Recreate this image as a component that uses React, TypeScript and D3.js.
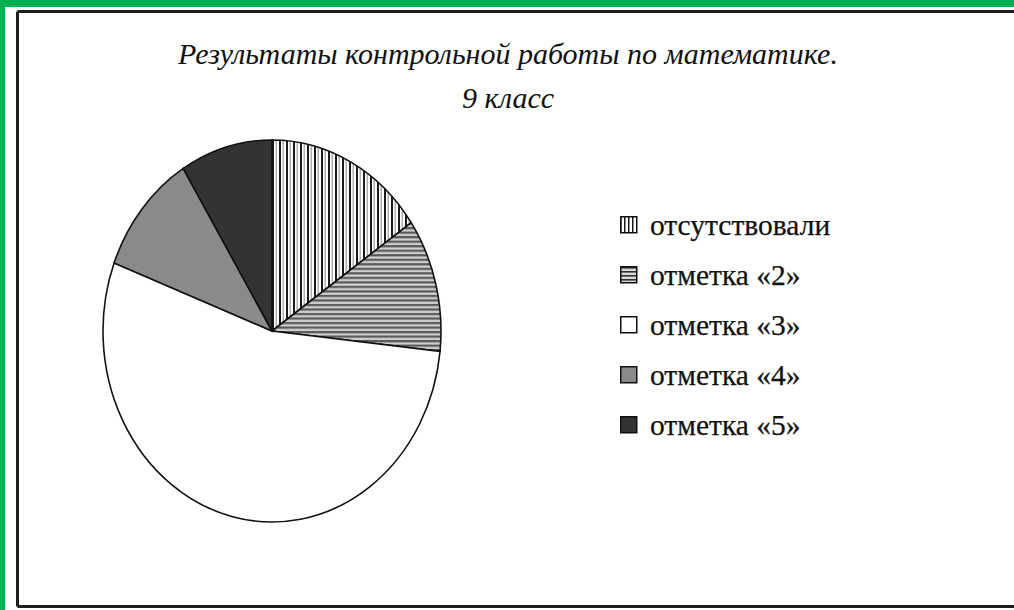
import * as d3 from 'd3'
import React from 'react'

// доли учеников (% класса), считаны по углам секторов
const categories = ['отсутствовали', 'отметка «2»', 'отметка «3»', 'отметка «4»', 'отметка «5»']
const shares = [15.4, 11.3, 54.1, 10.4, 8.8]
const fills = ['url(#vstripes)', 'url(#hstripes)', '#ffffff', '#8a8a8a', '#333333']
const titleLines = ['Результаты контрольной работы по математике.', '9 класс']

const W = 1014
const H = 610

export default function App() {
  const data = categories.map((name, i) => ({ name, value: shares[i], fill: fills[i] }))

  const rx = 169
  const ry = 191
  const cx = 272
  const cy = 331

  const pie = d3
    .pie<{ name: string; value: number; fill: string }>()
    .sort(null)
    .value(d => d.value)

  const arc = d3
    .arc<d3.PieArcDatum<{ name: string; value: number; fill: string }>>()
    .innerRadius(0)
    .outerRadius(rx)

  const legendY = d3
    .scalePoint<string>()
    .domain(categories)
    .range([225, 425])

  const serif = '"Liberation Serif", "DejaVu Serif", serif'

  return (
    <svg
      width={W}
      height={H}
      viewBox={`0 0 ${W} ${H}`}
      style={{ position: 'absolute', left: 0, top: 0, display: 'block', overflow: 'hidden' }}
    >
      <defs>
        <pattern id="vstripes" patternUnits="userSpaceOnUse" width={7} height={7}>
          <rect width={7} height={7} fill="#ffffff" />
          <rect x={0} width={2} height={7} fill="#1a1a1a" />
          <rect x={3.5} width={1.5} height={7} fill="#b0b0b0" />
        </pattern>
        <pattern id="hstripes" patternUnits="userSpaceOnUse" width={8} height={4}>
          <rect width={8} height={4} fill="#d0d0d0" />
          <rect y={0} width={8} height={2} fill="#5a5a5a" />
        </pattern>
        <pattern id="vstripesLeg" patternUnits="userSpaceOnUse" width={4} height={4}>
          <rect width={4} height={4} fill="#ffffff" />
          <rect x={0} width={1.5} height={4} fill="#1a1a1a" />
        </pattern>
        <pattern id="hstripesLeg" patternUnits="userSpaceOnUse" width={4} height={4}>
          <rect width={4} height={4} fill="#d8d8d8" />
          <rect y={0} width={4} height={1.6} fill="#333" />
        </pattern>
      </defs>

      {/* рамки */}
      <rect x={0} y={0} width={W} height={H} fill="#00b050" />
      <rect x={5} y={7} width={W - 5} height={H - 7} fill="#ffffff" />
      <g stroke="#1e1e1e" strokeWidth={3} fill="none">
        <line x1={17.5} y1={11.5} x2={W} y2={11.5} />
        <line x1={17.5} y1={11.5} x2={17.5} y2={606.5} />
        <line x1={17.5} y1={606.5} x2={W} y2={606.5} />
      </g>

      {/* заголовок */}
      <g fontFamily={serif} fontStyle="italic" fontSize={30} fill="#111" textAnchor="middle">
        {titleLines.map((t, i) => (
          <text key={t} x={508} y={64 + i * 44}>
            {t}
          </text>
        ))}
      </g>

      {/* круговая диаграмма, вытянутая по вертикали */}
      <g transform={`translate(${cx},${cy}) scale(1,${ry / rx})`}>
        {pie(data).map(d => (
          <path
            key={d.data.name}
            d={arc(d) ?? ''}
            fill={d.data.fill}
            stroke="#111"
            strokeWidth={1.6}
            vectorEffect="non-scaling-stroke"
          />
        ))}
      </g>

      {/* легенда */}
      <g fontFamily={serif} fontSize={29.5} fill="#111" stroke="#111" strokeWidth={0.25}>
        {data.map((d, i) => {
          const y = legendY(d.name) ?? 0
          const legFill = i === 0 ? 'url(#vstripesLeg)' : i === 1 ? 'url(#hstripesLeg)' : d.fill
          return (
            <g key={d.name} transform={`translate(620,${y})`}>
              <rect x={0.75} y={-8.25} width={16} height={16} fill={legFill} stroke="#111" strokeWidth={1.5} />
              <text x={30} y={10}>
                {d.name}
              </text>
            </g>
          )
        })}
      </g>
    </svg>
  )
}
